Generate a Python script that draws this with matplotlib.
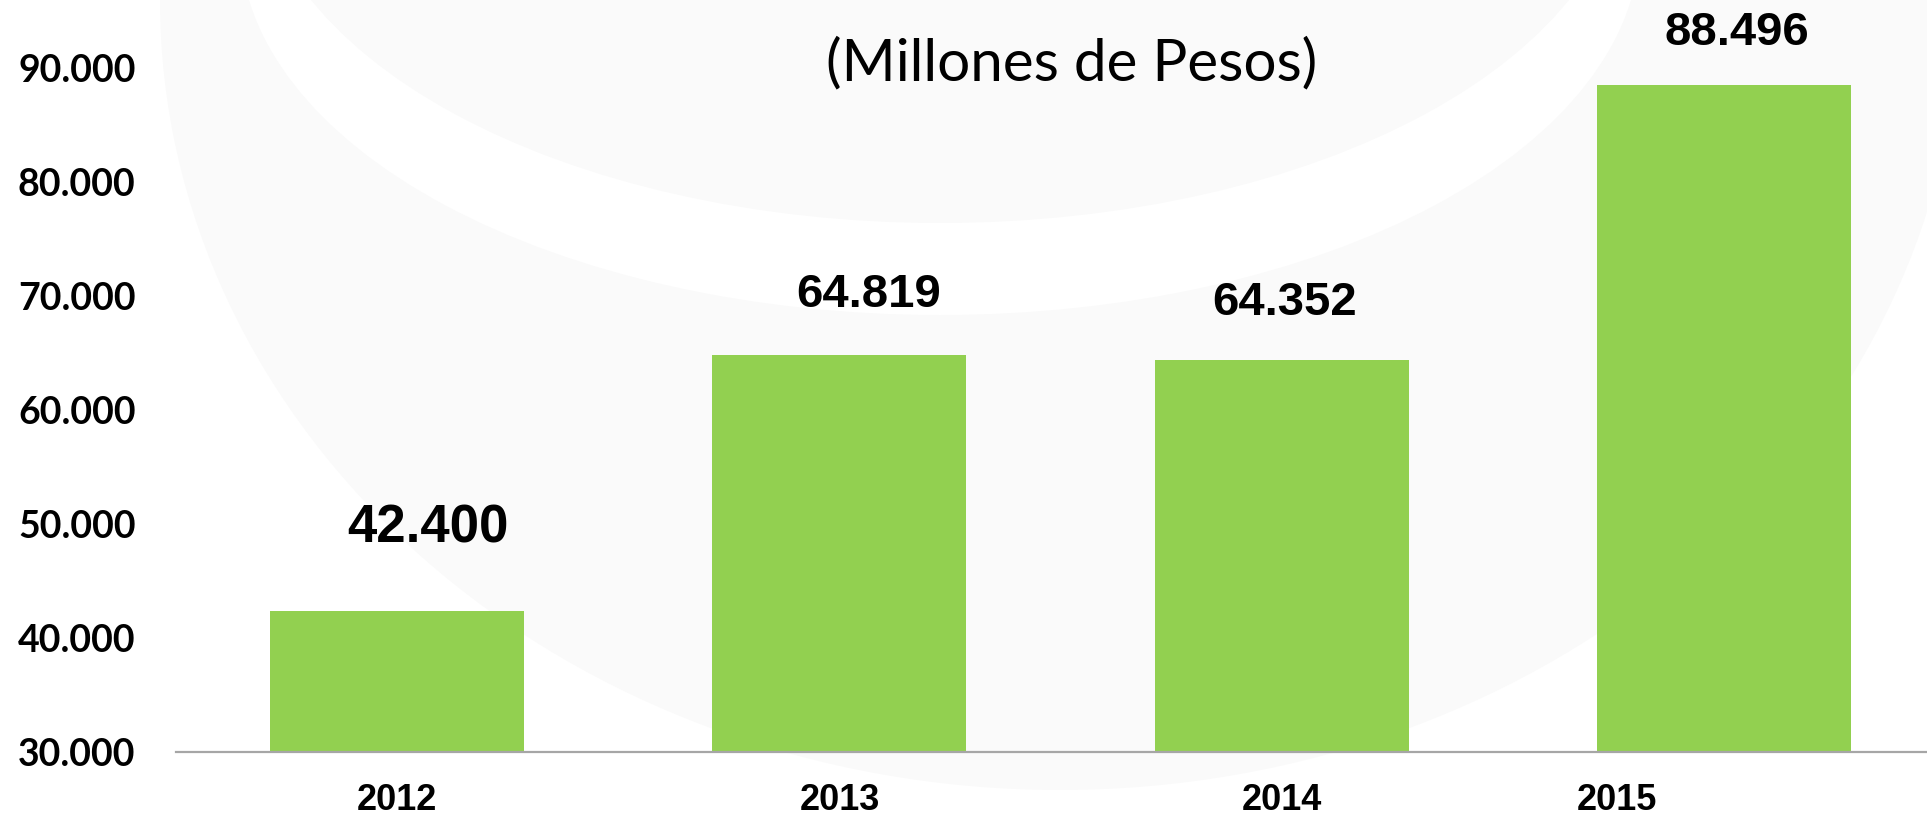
import numpy as np
import matplotlib
matplotlib.use("Agg")
import matplotlib.pyplot as plt
from matplotlib.patches import Ellipse

# inversion por año, millones de pesos
years = ["2012", "2013", "2014", "2015"]
values = [42400, 64819, 64352, 88496]
yticks = [30000, 40000, 50000, 60000, 70000, 80000, 90000]

W, H = 1927, 816
BAR_GREEN = "#92D050"


def fmt(v):
    return f"{v:,}".replace(",", ".")


def px_ellipse(cx, cy, a, b, color):
    # ellipse given in pixel units, y measured from the top edge
    return Ellipse((cx / W, 1 - cy / H), 2 * a / W, 2 * b / H,
                   transform=fig.transFigure, facecolor=color,
                   edgecolor="none", zorder=-1)


fig = plt.figure(figsize=(W / 100, H / 100), dpi=100)
fig.patch.set_facecolor("white")

# faint watermark rings in the background
fig.add_artist(px_ellipse(1060, 0, 900, 790, "#FAFAFA"))
fig.add_artist(px_ellipse(940, -60, 700, 375, "white"))
fig.add_artist(px_ellipse(940, -150, 687, 373, "#FAFAFA"))

ax = fig.add_axes([176 / W, 64 / H, 1 - 176 / W, 752 / H])
ax.patch.set_alpha(0)

x = np.arange(len(years))
ax.bar(x, values, width=0.574, color=BAR_GREEN, zorder=2)

ax.set_xlim(-0.5, 3.459)
ax.set_ylim(30000, 95919)

for side in ["top", "right", "left"]:
    ax.spines[side].set_visible(False)
ax.spines["bottom"].set_color("#A6A6A6")
ax.spines["bottom"].set_linewidth(1.6)
ax.spines["bottom"].set_zorder(3)

ax.set_yticks(yticks)
ax.set_yticklabels([fmt(t) for t in yticks], fontfamily="Lato",
                   fontweight="bold", fontsize=27)
ax.tick_params(axis="y", length=0, pad=29)

# year labels; the last one sits a bit left of its bar
label_pos = [0, 1, 2, 2.758]
ax.set_xticks(label_pos)
ax.set_xticklabels(years, fontfamily="Liberation Sans", fontweight="bold",
                   fontsize=26)
ax.tick_params(axis="x", length=0, pad=22)

# value labels above the bars (offsets in points)
label_dx = [22, 21, 2, 9]
label_dy = [59, 43, 41, 37]
label_size = [38, 34, 34, 34]
for i, v in enumerate(values):
    ax.annotate(fmt(v), xy=(x[i], v), xytext=(label_dx[i], label_dy[i]),
                textcoords="offset points", ha="center", va="center",
                fontfamily="Liberation Sans", fontweight="bold",
                fontsize=label_size[i], annotation_clip=False)

fig.text(1072 / W, 1 - 64 / H, "(Millones de Pesos)", ha="center",
         va="center", fontfamily="Lato", fontsize=42)

fig.savefig("out.png", dpi=100)
